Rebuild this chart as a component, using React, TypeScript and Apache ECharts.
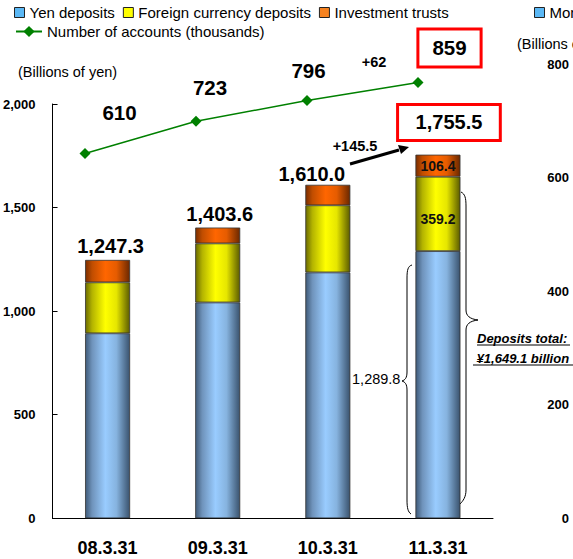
import React, { useEffect, useRef } from "react";
import * as echarts from "echarts";

const categories = ["08.3.31", "09.3.31", "10.3.31", "11.3.31"];
const yenDeposits = [893, 1042, 1187, 1289.8];
const foreignDeposits = [246, 285, 324, 359.2];
const investmentTrusts = [108.3, 76.6, 99, 106.4];
const totals = [1247.3, 1403.6, 1610.0, 1755.5];
const accounts = [610, 723, 796, 859];
const leftAxis = { min: 0, max: 2000, interval: 500 };
const rightAxis = { min: 0, max: 800, interval: 200 };

const FONT = '"Liberation Sans", Arial, sans-serif';

echarts.graphic.registerShape(
  "leftBrace",
  echarts.graphic.extendPath(
    "M412,265 C408,266 407,270 407,278 L407,372 C407,378 405,380 402,381 C405,382 407,384 407,390 L407,500 C407,508 408,512 411,514",
    {}
  )
);
echarts.graphic.registerShape(
  "rightBrace",
  echarts.graphic.extendPath(
    "M461,192 C465,194 466,198 466,206 L466,310 C466,316 470,319 478,320 C470,321 466,324 466,330 L466,490 C466,497 463,501 460,504",
    {}
  )
);

function grad(stops: string[]) {
  const pos = [0, 0.15, 0.45, 0.7, 1];
  return new echarts.graphic.LinearGradient(
    0, 0, 1, 0,
    stops.map((c, i) => ({ offset: pos[i], color: c }))
  );
}

const fmt1 = (n: number) =>
  n.toLocaleString("en-US", { minimumFractionDigits: 1, maximumFractionDigits: 1 });

export default function App() {
  const ref = useRef<HTMLDivElement>(null);
  useEffect(() => {
    document.body.style.margin = "0";
    const chart = echarts.init(ref.current!, null, { renderer: "svg" });

    const totalOffsets = [[3, 1.5], [2, 1], [-16, 4], [11, -10.7]];
    const lineOffsets = [[34.5, -41], [14, -33.3], [1.5, -29.5], [31.5, -34.5]];

    const option: any = {
      animation: false,
      textStyle: { fontFamily: FONT },
      grid: [
        { left: 52, right: 80, top: 104, bottom: 40.7 },
        { left: 52, right: 80, top: 64, bottom: 40.7 },
        { left: 85, right: 155, top: 42.3, bottom: 231.6 },
      ],
      xAxis: [
        {
          type: "category",
          gridIndex: 0,
          data: categories,
          axisLine: { lineStyle: { color: "#000", width: 1 } },
          axisTick: { inside: true, length: 6, lineStyle: { color: "#000" } },
          axisLabel: { fontSize: 18, fontWeight: "bold", color: "#000", margin: 21, fontFamily: FONT },
        },
        { type: "category", gridIndex: 1, data: categories, show: false },
        { type: "category", gridIndex: 2, data: categories, show: false, boundaryGap: false },
      ],
      yAxis: [
        {
          type: "value",
          gridIndex: 0,
          ...leftAxis,
          axisLine: { show: true, lineStyle: { color: "#000", width: 1 } },
          axisTick: { show: true, inside: true, length: 5, lineStyle: { color: "#000" } },
          splitLine: { show: false },
          axisLabel: {
            fontSize: 13, fontWeight: "bold", color: "#000", margin: 17, fontFamily: FONT,
            formatter: (v: number) => v.toLocaleString("en-US"),
          },
        },
        {
          type: "value",
          gridIndex: 1,
          position: "right",
          ...rightAxis,
          axisLine: { show: false },
          axisTick: { show: false },
          splitLine: { show: false },
          axisLabel: { fontSize: 13, fontWeight: "bold", color: "#000", margin: 76, align: "right", fontFamily: FONT },
        },
        { type: "value", gridIndex: 2, min: 0, max: 1000, show: false, splitLine: { show: false } },
      ],
      legend: [
        {
          left: 9, top: 0, itemWidth: 10, itemHeight: 10, itemGap: 8, icon: "rect", selectedMode: false,
          textStyle: { fontSize: 15, color: "#000", fontFamily: FONT },
          data: [
            { name: "Yen deposits", itemStyle: { color: "#5bb8f5", borderColor: "#222", borderWidth: 1 } },
            { name: "Foreign currency deposits", itemStyle: { color: "#ffff00", borderColor: "#222", borderWidth: 1 } },
            { name: "Investment trusts", itemStyle: { color: "#f58220", borderColor: "#222", borderWidth: 1 } },
          ],
        },
        {
          left: 529, top: 0, itemWidth: 10, itemHeight: 10, icon: "rect", selectedMode: false,
          textStyle: { fontSize: 15, color: "#000", fontFamily: FONT },
          data: [{ name: "Mortgage loans", itemStyle: { color: "#5bb8f5", borderColor: "#222", borderWidth: 1 } }],
        },
        {
          left: 10, top: 19, itemWidth: 26, itemHeight: 14, selectedMode: false,
          textStyle: { fontSize: 15, color: "#000", fontFamily: FONT },
          data: ["Number of accounts (thousands)"],
        },
      ],
      series: [
        {
          name: "Yen deposits",
          type: "bar",
          stack: "total",
          barWidth: 45,
          xAxisIndex: 0,
          yAxisIndex: 0,
          itemStyle: {
            color: grad(["#3f5a78", "#6f93bb", "#99ccff", "#86b3df", "#3a536e"]),
            borderColor: "#333",
            borderWidth: 0.8,
          },
          data: yenDeposits.map((v, i) => ({
            value: v,
            label:
              i === 3
                ? { show: true, position: "left", distance: 15, offset: [0, -6], fontSize: 14.5, color: "#000", formatter: fmt1(v), fontFamily: FONT }
                : { show: false },
          })),
        },
        {
          name: "Foreign currency deposits",
          type: "bar",
          stack: "total",
          barWidth: 45,
          xAxisIndex: 0,
          yAxisIndex: 0,
          itemStyle: {
            color: grad(["#6b6b00", "#b3b300", "#ffff00", "#e6e600", "#5c5c00"]),
            borderColor: "#333",
            borderWidth: 0.8,
          },
          data: foreignDeposits.map((v, i) => ({
            value: v,
            label:
              i === 3
                ? { show: true, position: "inside", offset: [0, 5], fontSize: 14, fontWeight: "bold", color: "#111", formatter: fmt1(v), fontFamily: FONT }
                : { show: false },
          })),
        },
        {
          name: "Investment trusts",
          type: "bar",
          stack: "total",
          barWidth: 45,
          xAxisIndex: 0,
          yAxisIndex: 0,
          itemStyle: {
            color: grad(["#7a2e00", "#c04d00", "#ff6600", "#e65c00", "#6b2800"]),
            borderColor: "#333",
            borderWidth: 0.8,
          },
          data: investmentTrusts.map((v, i) => ({
            value: v,
            label:
              i === 3
                ? { show: true, position: "inside", fontSize: 14, fontWeight: "bold", color: "#111", formatter: fmt1(v), fontFamily: FONT }
                : { show: false },
          })),
        },
        {
          name: "Total",
          type: "bar",
          barWidth: 45,
          barGap: "-100%",
          xAxisIndex: 0,
          yAxisIndex: 0,
          silent: true,
          itemStyle: { color: "rgba(0,0,0,0)" },
          data: totals.map((v, i) => ({
            value: v,
            label: {
              show: true,
              position: "top",
              distance: 5,
              offset: totalOffsets[i],
              fontSize: 20,
              fontWeight: "bold",
              color: "#000",
              fontFamily: FONT,
              formatter: fmt1(v),
              ...(i === 3
                ? { borderColor: "#ff0000", borderWidth: 3, padding: [6.5, 16.5], backgroundColor: "#fff" }
                : {}),
            },
          })),
        },
        {
          name: "Mortgage loans",
          type: "bar",
          xAxisIndex: 1,
          yAxisIndex: 1,
          itemStyle: { color: "#5bb8f5" },
          data: [],
        },
        {
          name: "Number of accounts (thousands)",
          type: "line",
          xAxisIndex: 2,
          yAxisIndex: 2,
          symbol: "diamond",
          symbolSize: 11,
          itemStyle: { color: "#008000" },
          lineStyle: { color: "#008000", width: 1.5 },
          data: accounts.map((v, i) => ({
            value: v,
            label: {
              show: true,
              position: "inside",
              offset: lineOffsets[i],
              fontSize: 20.5,
              fontWeight: "bold",
              color: "#000",
              fontFamily: FONT,
              ...(i === 3
                ? { borderColor: "#ff0000", borderWidth: 3, padding: [7, 13], backgroundColor: "#fff" }
                : {}),
            },
          })),
        },
      ],
      graphic: [
        { type: "text", left: 18, top: 64, style: { text: "(Billions of yen)", fontSize: 14.5, fill: "#000", fontFamily: FONT } },
        { type: "text", left: 517, top: 36, style: { text: "(Billions of yen)", fontSize: 14.5, fill: "#000", fontFamily: FONT } },
        { type: "text", x: 374, y: 62, style: { text: "+62", fontSize: 14.5, fontWeight: "bold", fill: "#000", align: "center", verticalAlign: "middle", fontFamily: FONT } },
        { type: "text", x: 355, y: 146, style: { text: "+145.5", fontSize: 14.5, fontWeight: "bold", fill: "#000", align: "center", verticalAlign: "middle", fontFamily: FONT } },
        { type: "line", shape: { x1: 350, y1: 164, x2: 399, y2: 150 }, style: { stroke: "#000", lineWidth: 3 } },
        { type: "polygon", shape: { points: [[409, 147], [398, 145], [401, 154]] }, style: { fill: "#000" } },
        { type: "leftBrace", x: 0, y: 0, style: { fill: "none", stroke: "#000", lineWidth: 1 } },
        { type: "rightBrace", x: 0, y: 0, style: { fill: "none", stroke: "#000", lineWidth: 1 } },
        { type: "text", x: 477, y: 338, style: { text: "Deposits total:", fontSize: 13, fontWeight: "bold", fontStyle: "italic", fill: "#000", verticalAlign: "middle", fontFamily: FONT } },
        { type: "line", shape: { x1: 477, y1: 345, x2: 570, y2: 345 }, style: { stroke: "#000", lineWidth: 1 } },
        { type: "text", x: 473, y: 358, style: { text: " ¥1,649.1 billion", fontSize: 13, fontWeight: "bold", fontStyle: "italic", fill: "#000", verticalAlign: "middle", fontFamily: FONT } },
        { type: "line", shape: { x1: 473, y1: 365, x2: 573, y2: 365 }, style: { stroke: "#000", lineWidth: 1 } },
      ],
    };

    chart.setOption(option);
    return () => chart.dispose();
  }, []);
  return <div ref={ref} style={{ width: 573, height: 559 }} />;
}
